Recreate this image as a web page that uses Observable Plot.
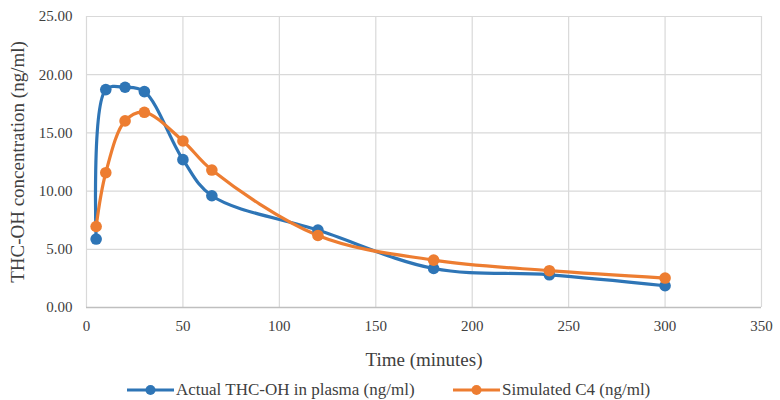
<!DOCTYPE html>
<html><head><meta charset="utf-8">
<script src="https://cdn.jsdelivr.net/npm/d3@7"></script>
<script src="https://cdn.jsdelivr.net/npm/@observablehq/plot@0.6"></script>
<style>
body{margin:0;background:#fff;font-family:'Liberation Serif',serif;}
#chart svg, #chart svg text{font-family:'Liberation Serif',serif !important;}
#legend{position:relative;height:28px;margin-top:8px;font-size:17px;color:#404040;}
.item{position:absolute;top:0;display:flex;align-items:center;gap:2px;white-space:nowrap;}
</style></head><body>
<div id="chart"></div>
<div id="legend"></div>
<script>
const times = [5, 10, 20, 30, 50, 65, 120, 180, 240, 300];
const actual = [5.88, 18.72, 18.92, 18.55, 12.7, 9.6, 6.65, 3.35, 2.81, 1.87];
const simulated = [6.96, 11.58, 16.03, 16.77, 14.31, 11.81, 6.19, 4.07, 3.16, 2.53];
const seriesNames = ["Actual THC-OH in plasma (ng/ml)", "Simulated C4 (ng/ml)"];
const colors = ["#2e75b6", "#ed7d31"];
const xTicks = [0, 50, 100, 150, 200, 250, 300, 350];
const yTicks = [0, 5, 10, 15, 20, 25];

const data = [];
times.forEach((t, i) => data.push({t, v: actual[i], s: seriesNames[0]}));
times.forEach((t, i) => data.push({t, v: simulated[i], s: seriesNames[1]}));

const chart = Plot.plot({
  width: 780, height: 372,
  marginLeft: 86, marginRight: 19, marginTop: 16, marginBottom: 65,
  style: "font-family: 'Liberation Serif', serif; font-size: 15px; color: #404040; background: #fff;",
  x: {domain: [0, 350]},
  y: {domain: [0, 25]},
  color: {domain: seriesNames, range: colors},
  marks: [
    Plot.ruleX(xTicks, {stroke: "#d9d9d9", strokeWidth: 1.2}),
    Plot.ruleY(yTicks.filter(d => d > 0), {stroke: "#d9d9d9", strokeWidth: 1.2}),
    Plot.ruleY([0], {stroke: "#bfbfbf", strokeWidth: 1.3}),
    Plot.axisX({ticks: xTicks, tickSize: 0, tickPadding: 13, fontSize: 15, label: "Time (minutes)", labelAnchor: "center", labelArrow: "none", labelOffset: 58}),
    Plot.axisY({ticks: yTicks, tickSize: 0, tickPadding: 14, tickFormat: d => d.toFixed(2), fontSize: 15, label: "THC-OH concentration (ng/ml)", labelAnchor: "center", labelArrow: "none", labelOffset: 76}),
    Plot.line(data, {x: "t", y: "v", stroke: "s", z: "s", strokeWidth: 3.2, curve: "catmull-rom"}),
    Plot.dot(data, {x: "t", y: "v", fill: "s", r: 5.8})
  ]
});
chart.querySelectorAll("g[aria-label='x-axis label'] text, g[aria-label='y-axis label'] text").forEach(t => t.style.fontSize = "19px");
document.getElementById("chart").appendChild(chart);

const legend = document.getElementById("legend");
const lefts = [127, 453];
seriesNames.forEach((n, i) => {
  const item = document.createElement("div");
  item.className = "item";
  item.style.left = lefts[i] + "px";
  item.innerHTML = `<svg width="47" height="14"><line x1="0" y1="7" x2="47" y2="7" stroke="${colors[i]}" stroke-width="3.2"/><circle cx="23.5" cy="7" r="5" fill="${colors[i]}"/></svg><span>${n}</span>`;
  legend.appendChild(item);
});
</script>
</body></html>
